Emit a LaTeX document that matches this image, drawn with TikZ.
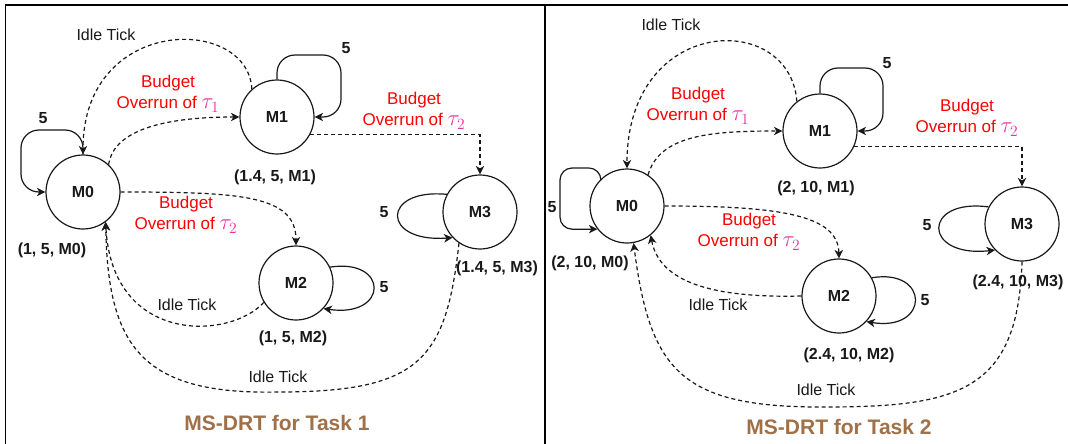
\documentclass[tikz,border=0pt]{standalone}
\usepackage{fontspec}
\setmainfont{Liberation Sans}
\usetikzlibrary{arrows.meta}
\definecolor{taupink}{RGB}{230,50,160}
\definecolor{budgetred}{RGB}{255,0,0}
\definecolor{titlebrown}{RGB}{160,112,72}
\definecolor{ink}{RGB}{25,25,25}
\tikzset{
  mstate/.style={circle, draw=ink, line width=1.2pt, minimum size=74pt, inner sep=0pt,
                 font=\fontsize{16}{19}\selectfont\bfseries, text=ink},
  tuple/.style={font=\fontsize{16}{19}\selectfont\bfseries, text=ink, inner sep=0pt},
  loopnum/.style={font=\fontsize{16}{19}\selectfont\bfseries, text=ink, inner sep=0pt},
  idlelabel/.style={font=\fontsize{16}{19}\selectfont, text=ink, inner sep=0pt},
  budget/.style={font=\fontsize{17}{21}\selectfont, text=budgetred, align=center, inner sep=0pt},
  paneltitle/.style={font=\fontsize{21}{25}\selectfont\bfseries, text=titlebrown, inner sep=0pt},
  arrowtip/.style={-{Stealth[length=8.5pt,width=8.5pt,inset=2.5pt]}},
  selfloop/.style={arrowtip, draw=ink, line width=1.2pt},
  dashedge/.style={arrowtip, draw=ink, line width=1.2pt, dash pattern=on 4pt off 3pt},
  frameline/.style={draw=black, line width=1.6pt}
}
\newcommand{\ovr}[1]{Budget\\Overrun of {\color{taupink}\scalebox{1.3}{$\tau_{#1}$}}}
\begin{document}
\begin{tikzpicture}[x=1pt, y=-1pt]
\useasboundingbox (0,0) rectangle (1068,444);
\fill[white] (0,0) rectangle (1068,444);

% panel frame
\coordinate (fTL) at (5.5,5);
\coordinate (fTR) at (1068,5);
\coordinate (fBL) at (5.5,444);
\coordinate (dTop) at (545,5);
\coordinate (dBot) at (545,444);
\draw[frameline] (fBL) -- (fTL) -- (fTR);
\draw[frameline] (dTop) -- (dBot);

% ================= Task 1 =================
\node[mstate] (a0) at (83,192) {M0};
\node[mstate] (a1) at (277,117) {M1};
\node[mstate] (a2) at (296,283) {M2};
\node[mstate] (a3) at (480,212) {M3};

\node[tuple] (a0t) at (52,250) {(1, 5, M0)};
\node[tuple] (a1t) at (275,177) {(1.4, 5, M1)};
\node[tuple] (a2t) at (293,338) {(1, 5, M2)};
\node[tuple] (a3t) at (497,268) {(1.4, 5, M3)};

% self loops
\draw[selfloop, rounded corners=18pt] (a0.north) |- (21,130) |- (a0.west);
\node[loopnum] (a0n) at (43,118) {5};
\draw[selfloop, rounded corners=18pt] (a1.north) |- (341,55) |- (a1.east);
\node[loopnum] (a1n) at (346,48) {5};
\draw[selfloop] (a2.25) .. controls (389,258) and (389,318) .. (a2.-43);
\node[loopnum] (a2n) at (384,287) {5};
\draw[selfloop] (a3.152) .. controls (381,188) and (381,243) .. (a3.223);
\node[loopnum] (a3n) at (384,212) {5};

% budget overruns
\draw[dashedge] (a0.47) .. controls (114,128) and (170,117) .. (a1.west);
\node[budget] (a01l) at (168,94) {\ovr{1}};
\draw[dashedge] (a1.-28) -| (a3.north);
\node[budget] (a13l) at (414,111) {\ovr{2}};
\draw[dashedge] (a0.east) .. controls (240,192) and (296,195) .. (a2.north);
\node[budget] (a02l) at (186,215) {\ovr{2}};

% idle ticks
\draw[dashedge] (a1.132) .. controls (248,15) and (83,15) .. (a0.north);
\node[idlelabel] (a10l) at (106,35) {Idle Tick};
\draw[dashedge] (a2.211) .. controls (230,340) and (112,345) .. (a0.-53);
\node[idlelabel] (a20l) at (187,305) {Idle Tick};
\draw[dashedge] (a3.236) .. controls (446,360) and (420,392) .. (278,392)
                .. controls (140,395) and (108,345) .. (a0.-53);
\node[idlelabel] (a30l) at (278,377) {Idle Tick};

\node[paneltitle] (t1) at (277,423) {MS-DRT for Task 1};

% ================= Task 2 =================
\node[mstate] (b0) at (627,206) {M0};
\node[mstate] (b1) at (820,131) {M1};
\node[mstate] (b2) at (839,296) {M2};
\node[mstate] (b3) at (1022,224) {M3};

\node[tuple] (b0t) at (590,263) {(2, 10, M0)};
\node[tuple] (b1t) at (816,188) {(2, 10, M1)};
\node[tuple] (b2t) at (849,355) {(2.4, 10, M2)};
\node[tuple] (b3t) at (1018,282) {(2.4, 10, M3)};

% self loops
\draw[selfloop, rounded corners=12pt] (b0.134) |- (560,168) |- (b0.218);
\node[loopnum] (b0n) at (552,207) {5};
\draw[selfloop, rounded corners=18pt] (b1.north) |- (883,68) |- (b1.east);
\node[loopnum] (b1n) at (887,63) {5};
\draw[selfloop] (b2.29) .. controls (930,268) and (930,332) .. (b2.-43);
\node[loopnum] (b2n) at (925,300) {5};
\draw[selfloop] (b3.153) .. controls (922,198) and (922,258) .. (b3.224);
\node[loopnum] (b3n) at (927,225) {5};

% budget overruns
\draw[dashedge] (b0.56) .. controls (660,135) and (710,131) .. (b1.west);
\node[budget] (b01l) at (698,106) {\ovr{1}};
\draw[dashedge] (b1.-25) -| (b3.north);
\node[budget] (b13l) at (967,118) {\ovr{2}};
\draw[dashedge] (b0.east) .. controls (780,206) and (838,215) .. (b2.north);
\node[budget] (b02l) at (749,232) {\ovr{2}};

% idle ticks
\draw[dashedge] (b1.128) .. controls (790,10) and (627,15) .. (b0.north);
\node[idlelabel] (b10l) at (671,25) {Idle Tick};
\draw[dashedge] (b2.west) .. controls (720,298) and (660,285) .. (b0.-51);
\node[idlelabel] (b20l) at (718,305) {Idle Tick};
\draw[dashedge] (b3.south) .. controls (1018,390) and (960,407) .. (826,407)
                .. controls (680,408) and (650,370) .. (b0.-80);
\node[idlelabel] (b30l) at (826,390) {Idle Tick};

\node[paneltitle] (t2) at (839,427) {MS-DRT for Task 2};
\end{tikzpicture}
\end{document}
